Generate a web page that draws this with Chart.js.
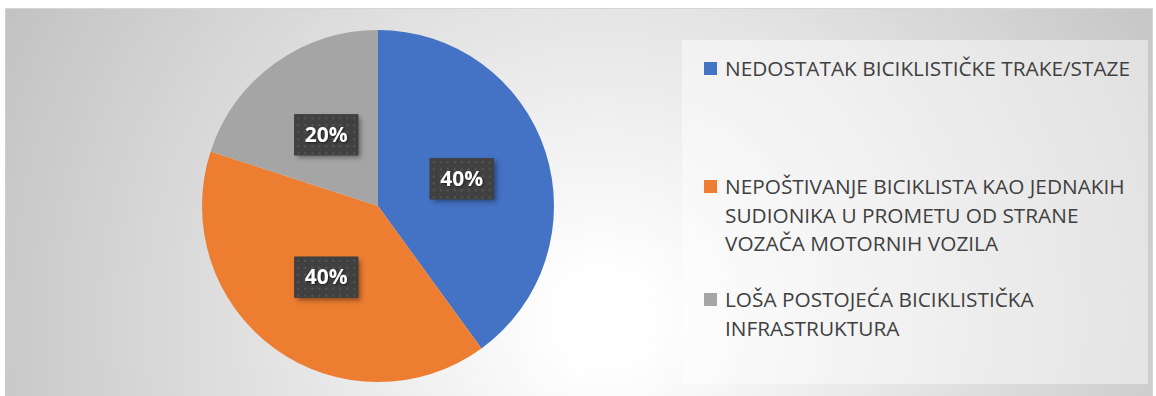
<!DOCTYPE html>
<html>
<head>
<meta charset="utf-8">
<script src="https://cdn.jsdelivr.net/npm/chart.js@4.4.1/dist/chart.umd.min.js"></script>
<style>
  html, body { margin: 0; padding: 0; width: 1156px; height: 396px; overflow: hidden; background: #fff; }
  .chart-frame {
    position: absolute; left: 5px; top: 8px; width: 1146px; height: 430px;
    border-top: 1px solid #d6d6d6; border-left: 1px solid #cfcfcf; border-right: 1px solid #d6d6d6;
    background: radial-gradient(circle farthest-corner at 52% 72%, #ffffff 0%, #ffffff 6%, #c2c2c2 100%);
  }
  .pie-wrap { position: absolute; left: 202px; top: 30px; width: 352px; height: 352px; }
  #pie-chart-legend {
    position: absolute; left: 682px; top: 40px; width: 466px; height: 344px;
    background: rgba(255, 255, 255, 0.45);
    font-family: "Open Sans", sans-serif; font-size: 20.8px; color: #404040;
  }
  #pie-chart-legend ul { list-style: none; margin: 0; padding: 0; }
  #pie-chart-legend li { position: absolute; left: 0; width: 100%; }
  #pie-chart-legend .swatch { position: absolute; left: 22px; width: 13px; height: 13px; }
  #pie-chart-legend .text { position: absolute; left: 43px; line-height: 28.5px; white-space: nowrap; }
</style>
</head>
<body>
<div class="chart-frame"></div>
<div class="pie-wrap"><canvas id="pie-chart"></canvas></div>
<div id="pie-chart-legend"></div>
<script>
  const categories = [
    ['NEDOSTATAK BICIKLISTIČKE TRAKE/STAZE'],
    ['NEPOŠTIVANJE BICIKLISTA KAO JEDNAKIH', 'SUDIONIKA U PROMETU OD STRANE', 'VOZAČA MOTORNIH VOZILA'],
    ['LOŠA POSTOJEĆA BICIKLISTIČKA', 'INFRASTRUKTURA']
  ];
  const shares = [40, 40, 20];
  const sliceColors = ['#4472c4', '#ed7d31', '#a5a5a5'];

  // vertical spot of the first text line of every legend entry
  const legendTops = [14, 132, 245];

  // small dotted tile used behind the percent labels
  function dotPattern(ctx) {
    const tile = document.createElement('canvas');
    tile.width = 7;
    tile.height = 7;
    const t = tile.getContext('2d');
    t.fillStyle = '#404040';
    t.fillRect(0, 0, 7, 7);
    t.fillStyle = '#575757';
    t.fillRect(3, 3, 2, 2);
    return ctx.createPattern(tile, 'repeat');
  }

  const percentLabels = {
    id: 'percentLabels',
    afterDatasetsDraw(chart) {
      const ctx = chart.ctx;
      const values = chart.data.datasets[0].data;
      const total = values.reduce((a, b) => a + b, 0);
      const fill = dotPattern(ctx);
      chart.getDatasetMeta(0).data.forEach((arc, i) => {
        const pos = arc.tooltipPosition();
        const w = 64, h = 41;
        ctx.save();
        ctx.shadowColor = 'rgba(0, 0, 0, 0.4)';
        ctx.shadowBlur = 5;
        ctx.shadowOffsetX = 3;
        ctx.shadowOffsetY = 3;
        ctx.fillStyle = '#404040';
        ctx.fillRect(pos.x - w / 2, pos.y - h / 2, w, h);
        ctx.restore();
        ctx.save();
        ctx.translate(pos.x - w / 2, pos.y - h / 2);
        ctx.fillStyle = fill;
        ctx.fillRect(0, 0, w, h);
        ctx.restore();

        ctx.save();
        ctx.font = 'bold 21px "Open Sans"';
        ctx.fillStyle = '#ffffff';
        ctx.textAlign = 'center';
        ctx.textBaseline = 'middle';
        ctx.shadowColor = 'rgba(0, 0, 0, 0.5)';
        ctx.shadowBlur = 2;
        ctx.shadowOffsetX = 1;
        ctx.shadowOffsetY = 1;
        ctx.fillText(Math.round(values[i] / total * 100) + '%', pos.x, pos.y + 1);
        ctx.restore();
      });
    }
  };

  new Chart(document.getElementById('pie-chart'), {
    type: 'pie',
    data: {
      labels: categories,
      datasets: [{
        data: shares,
        backgroundColor: sliceColors,
        borderWidth: 0,
        hoverOffset: 0,
        offset: 0
      }]
    },
    options: {
      responsive: true,
      maintainAspectRatio: false,
      animation: false,
      events: [],
      layout: { padding: 0 },
      plugins: {
        legend: { display: false },
        tooltip: { enabled: false }
      }
    },
    plugins: [percentLabels, {
      id: 'htmlLegend',
      afterUpdate(chart) {
        const box = document.getElementById('pie-chart-legend');
        box.innerHTML = '';
        const ul = document.createElement('ul');
        chart.data.labels.forEach((lines, i) => {
          const li = document.createElement('li');
          li.style.top = legendTops[i] + 'px';
          li.innerHTML = `
            <span class="swatch" style="top: 8px; background-color: ${chart.data.datasets[0].backgroundColor[i]}"></span>
            <div class="text">${lines.join('<br>')}</div>
          `;
          ul.appendChild(li);
        });
        box.appendChild(ul);
      }
    }]
  });
</script>
</body>
</html>
